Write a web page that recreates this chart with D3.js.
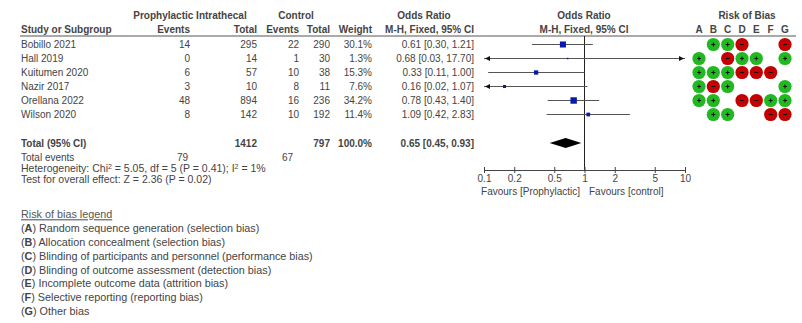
<!DOCTYPE html>
<html><head><meta charset="utf-8">
<script src="https://cdn.jsdelivr.net/npm/d3@7"></script>
<style>
body{margin:0;background:#fff;}
svg{display:block;font-family:"Liberation Sans",Arial,sans-serif;}
</style></head>
<body>
<svg id="c" width="802" height="323"></svg>
<script>
const studies = ["Bobillo 2021","Hall 2019","Kuitumen 2020","Nazir 2017","Orellana 2022","Wilson 2020"];
const expEvents = [14,0,6,3,48,8];
const expTotal = [295,14,57,10,894,142];
const ctlEvents = [22,1,10,8,16,10];
const ctlTotal = [290,30,38,11,236,192];
const weights = [30.1,1.3,15.3,7.6,34.2,11.4];
const orVal = [0.61,0.68,0.33,0.16,0.78,1.09];
const orLow = [0.30,0.03,0.11,0.02,0.43,0.42];
const orHigh = [1.21,17.70,1.00,1.07,1.40,2.83];
const total = {exp:1412, ctl:797, weight:"100.0%", or:0.65, lo:0.45, hi:0.93, expEv:79, ctlEv:67};
const axisTicks = [0.1,0.2,0.5,1,2,5,10];
const biasDomains = ["A","B","C","D","E","F","G"];
// "+" low risk, "-" high risk, "" unclear (blank)
const biasRows = [
  ["","+","+","-","","","-"],
  ["+","","-","+","+","","+"],
  ["+","+","+","-","-","-",""],
  ["+","-","+","","","","+"],
  ["+","+","","-","-","+","+"],
  ["","+","+","","","-","-"]
];
const legendLines = [
  ["A","Random sequence generation (selection bias)"],
  ["B","Allocation concealment (selection bias)"],
  ["C","Blinding of participants and personnel (performance bias)"],
  ["D","Blinding of outcome assessment (detection bias)"],
  ["E","Incomplete outcome data (attrition bias)"],
  ["F","Selective reporting (reporting bias)"],
  ["G","Other bias"]
];

const svg = d3.select("#c");
const FS = 10, TC = "#444";
const rowY = d3.scalePoint().domain(studies).range([44.5,114.5]);
const x = d3.scaleLog().domain([0.1,10]).range([484,685]);
const biasX = d3.scalePoint().domain(biasDomains).range([699,785]);

function txt(xp,yp,s,anchor,bold,fs){
  return svg.append("text").attr("x",xp).attr("y",yp).attr("dy","0.35em")
    .attr("text-anchor",anchor||"start").attr("font-size",fs||FS).attr("fill",TC)
    .attr("font-weight",bold?"bold":"normal").text(s);
}
const C = {ev1:190, tot1:257, ev2:299, tot2:330, w:372, or:474};
// headers
txt(190,15,"Prophylactic Intrathecal","middle",true);
txt(296,15,"Control","middle",true);
txt(424,15,"Odds Ratio","middle",true);
txt(584,15,"Odds Ratio","middle",true);
txt(747,15,"Risk of Bias","middle",true);
txt(21,29,"Study or Subgroup","start",true);
txt(C.ev1,29,"Events","end",true);
txt(C.tot1,29,"Total","end",true);
txt(C.ev2,29,"Events","end",true);
txt(C.tot2,29,"Total","end",true);
txt(C.w,29,"Weight","end",true);
txt(C.or,29,"M-H, Fixed, 95% CI","end",true);
txt(584,29,"M-H, Fixed, 95% CI","middle",true);
biasDomains.forEach(d=>txt(biasX(d),29,d,"middle",true));
svg.append("line").attr("x1",20).attr("x2",796).attr("y1",36).attr("y2",36).attr("stroke","#555").attr("stroke-width",1);

const f2 = d3.format(".2f");
studies.forEach((s,i)=>{
  const y = rowY(s);
  txt(21,y,s);
  txt(C.ev1,y,expEvents[i],"end");
  txt(C.tot1,y,expTotal[i],"end");
  txt(C.ev2,y,ctlEvents[i],"end");
  txt(C.tot2,y,ctlTotal[i],"end");
  txt(C.w,y,weights[i].toFixed(1)+"%","end");
  txt(C.or,y,`${f2(orVal[i])} [${f2(orLow[i])}, ${f2(orHigh[i])}]`,"end");
});

// totals
txt(21,143,"Total (95% CI)","start",true);
txt(C.tot1,143,total.exp,"end",true);
txt(C.tot2,143,total.ctl,"end",true);
txt(C.w,143,total.weight,"end",true);
txt(C.or,143,`${f2(total.or)} [${f2(total.lo)}, ${f2(total.hi)}]`,"end",true);
txt(21,157,"Total events");
txt(188,157,total.expEv,"end");
txt(293,157,total.ctlEv,"end");
svg.append("text").attr("x",21).attr("y",168).attr("dy","0.35em").attr("font-size",10.5).attr("fill",TC)
  .html('Heterogeneity: Chi<tspan font-size="7" dy="-3">2</tspan><tspan dy="3"> = 5.05, df = 5 (P = 0.41); I</tspan><tspan font-size="7" dy="-3">2</tspan><tspan dy="3"> = 1%</tspan>');
txt(21,179.5,"Test for overall effect: Z = 2.36 (P = 0.02)",null,false,10.5);

// forest plot
svg.append("line").attr("x1",x(1)).attr("x2",x(1)).attr("y1",36).attr("y2",170).attr("stroke","#222").attr("stroke-width",1);
const ciCol = "#555";
function arrow(xp,y,dir){
  svg.append("path").attr("d",`M${xp},${y} l${-dir*5},-2.5 l0,5 z`).attr("fill","#111");
}
studies.forEach((s,i)=>{
  const y = rowY(s);
  const lo = Math.max(orLow[i],0.1), hi = Math.min(orHigh[i],10);
  svg.append("line").attr("x1",x(lo)).attr("x2",x(hi)).attr("y1",y).attr("y2",y).attr("stroke",ciCol).attr("stroke-width",1);
  if(orLow[i]<0.1) arrow(x(0.1)+1,y,-1);
  if(orHigh[i]>10) arrow(x(10)-1,y,1);
  const sz = Math.max(1.5, Math.sqrt(weights[i])*1.1);
  svg.append("rect").attr("x",x(orVal[i])-sz/2).attr("y",y-sz/2).attr("width",sz).attr("height",sz).attr("fill","#0a1aa8");
});
svg.append("path").attr("d",`M${x(total.lo)},143 L${x(total.or)},138 L${x(total.hi)},143 L${x(total.or)},148 Z`).attr("fill","#000");

const axis = d3.axisBottom(x).tickValues(axisTicks).tickFormat(d=>d3.format("~g")(d)).tickSize(0).tickSizeOuter(0);
const ag = svg.append("g").attr("transform","translate(0,170)").call(axis);
ag.select(".domain").attr("stroke","#444");
ag.selectAll(".tick line").attr("y1",-3).attr("y2",3).attr("stroke","#444");
ag.selectAll(".tick text").attr("font-size",FS).attr("fill",TC).attr("font-family","Liberation Sans, Arial, sans-serif").attr("dy","0.35em").attr("y",8.5);
txt(580,191.5,"Favours [Prophylactic]","end");
txt(589,191.5,"Favours [control]","start");

// risk of bias
biasRows.forEach((row,i)=>{
  const y = rowY(studies[i]);
  row.forEach((v,j)=>{
    if(!v) return;
    const cx = biasX(biasDomains[j]);
    svg.append("circle").attr("cx",cx).attr("cy",y).attr("r",6.6)
      .attr("fill",v==="+"?"#22b822":"#c40000");
    if(v==="+"){
      svg.append("path").attr("d",`M${cx-2},${y} h4 M${cx},${y-2} v4`).attr("stroke","#111").attr("stroke-width",1);
    } else {
      svg.append("path").attr("d",`M${cx-2},${y} h4`).attr("stroke","#111").attr("stroke-width",1);
    }
  });
});

// legend
txt(21,214.5,"Risk of bias legend",null,false,10.8).attr("text-decoration","underline").attr("fill","#555");
legendLines.forEach((l,i)=>{
  const t = svg.append("text").attr("x",21).attr("y",228.5+i*13.8).attr("dy","0.35em").attr("font-size",10.8).attr("fill",TC);
  t.append("tspan").text("(");
  t.append("tspan").attr("font-weight","bold").text(l[0]);
  t.append("tspan").text(") "+l[1]);
});
</script>
</body></html>
